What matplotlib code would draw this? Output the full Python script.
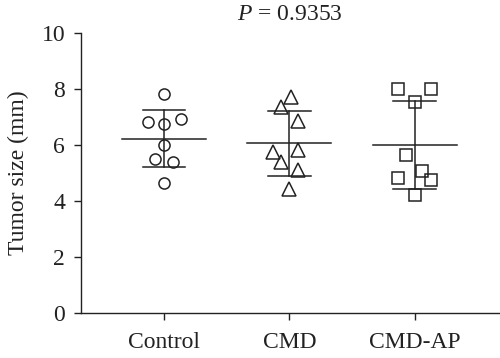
import numpy as np
import matplotlib.pyplot as plt

plt.rcParams['font.family'] = ['Liberation Serif', 'DejaVu Serif']
plt.rcParams['mathtext.fontset'] = 'custom'
plt.rcParams['mathtext.rm'] = 'Liberation Serif'
plt.rcParams['mathtext.it'] = 'Liberation Serif:italic'

groups = ['Control', 'CMD', 'CMD-AP']
control = [7.80, 6.80, 6.75, 6.92, 6.01, 5.48, 5.39, 4.65]
cmd = [7.72, 7.36, 6.86, 5.75, 5.81, 5.39, 5.11, 4.43]
cmd_ap = [7.98, 7.98, 7.52, 5.62, 5.07, 4.83, 4.76, 4.22]
p_value = 0.9353

# horizontal scatter of the points within each column
jitter = [
    [0, -0.13, 0, 0.135, 0, -0.075, 0.07, 0],
    [0.01, -0.07, 0.07, -0.135, 0.07, -0.065, 0.07, 0],
    [-0.135, 0.13, 0, -0.07, 0.055, -0.135, 0.13, 0],
]
markers = ['o', '^', 's']
sizes = [8, 9.5, 8.5]

ink = '#222222'
fig = plt.figure(figsize=(5, 3.58), dpi=100)
ax = fig.add_axes([0.161, 0.1265, 0.839, 0.7815])

for i, vals in enumerate([control, cmd, cmd_ap]):
    x = i + 1
    vals = np.array(vals)
    m = vals.mean()
    sd = vals.std(ddof=1)
    ax.plot(x + np.array(jitter[i]), vals, linestyle='none', marker=markers[i],
            markersize=sizes[i], markerfacecolor='none', markeredgecolor=ink,
            markeredgewidth=1.1, zorder=3)
    ax.plot([x - 0.335, x + 0.335], [m, m], color=ink, lw=1.1)
    ax.plot([x, x], [m - sd, m + sd], color=ink, lw=1.1)
    ax.plot([x - 0.17, x + 0.17], [m + sd, m + sd], color=ink, lw=1.1)
    ax.plot([x - 0.17, x + 0.17], [m - sd, m - sd], color=ink, lw=1.1)

ax.set_xlim(0.333, 3.68)
ax.set_ylim(0, 10)
ax.set_yticks([0, 2, 4, 6, 8, 10])
ax.set_xticks([1, 2, 3])
ax.set_xticklabels(groups)
ax.spines['top'].set_visible(False)
ax.spines['right'].set_visible(False)
for s in ['left', 'bottom']:
    ax.spines[s].set_color(ink)
    ax.spines[s].set_linewidth(1.0)
ax.tick_params(direction='out', length=5, width=1.0, color=ink,
               labelsize=17, labelcolor=ink)
ax.tick_params(axis='x', pad=9)
ax.tick_params(axis='y', pad=6)
ax.set_ylabel('Tumor size (mm)', fontsize=17, color=ink, labelpad=9)
ax.set_title('$P$ = %.4f' % p_value, fontsize=17, color=ink, pad=9)

plt.savefig('out.png', dpi=100)
